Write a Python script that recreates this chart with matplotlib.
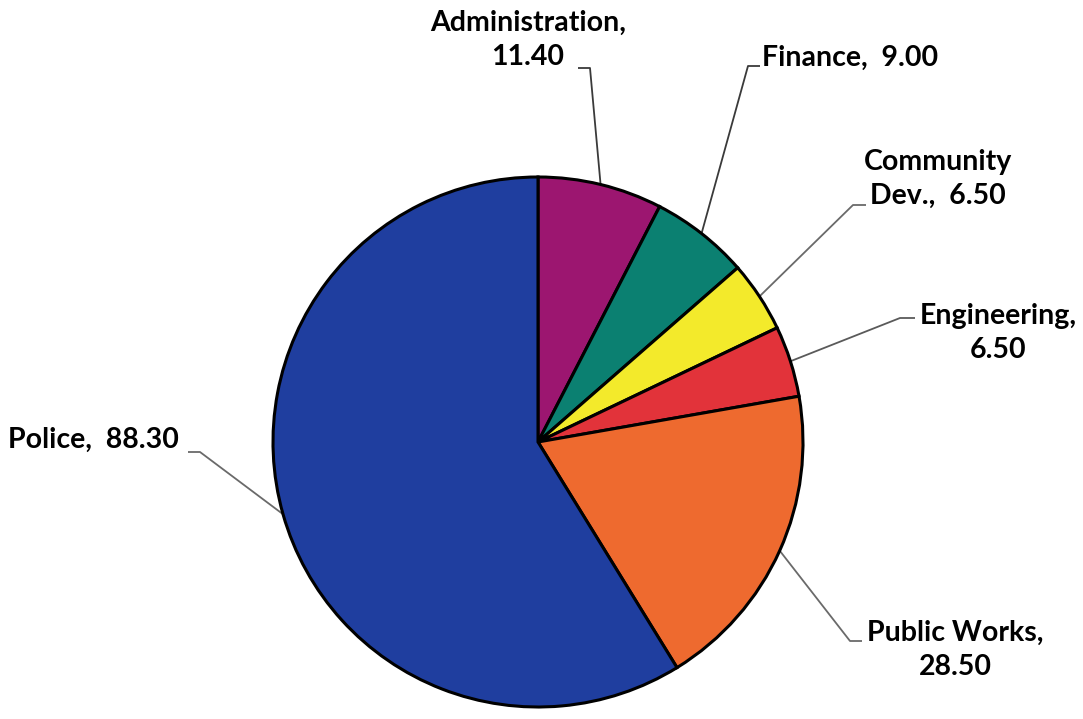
import numpy as np
import matplotlib
matplotlib.use("Agg")
import matplotlib.pyplot as plt

# ---- data ----
categories = ["Administration", "Finance", "Community Dev.", "Engineering", "Public Works", "Police"]
values = [11.40, 9.00, 6.50, 6.50, 28.50, 88.30]
label_texts = ["Administration,\n11.40", "Finance,  9.00", "Community\nDev.,  6.50",
               "Engineering,\n6.50", "Public Works,\n28.50", "Police,  88.30"]
colors = ["#9C1670", "#0B8071", "#F3EA2B", "#E2333A", "#EE6A2F", "#1F3E9F"]

W, H = 1083, 719
fig = plt.figure(figsize=(W / 100, H / 100), dpi=100)
ax = fig.add_axes([0, 0, 1, 1])

cx, cy, R = 538, H - 442, 265
wedges, _ = ax.pie(values, colors=colors, startangle=90, counterclock=False,
                   center=(cx, cy), radius=R,
                   wedgeprops=dict(edgecolor="black", linewidth=2.2))

ax.set_xlim(0, W)
ax.set_ylim(0, H)
ax.set_aspect("equal")
ax.axis("off")

# label layout (pixel positions, y from top): text pos, alignment, elbow, hook end
layout = [
    dict(xy=(528, 40), ha="center", elbow=(590, 68), hook=(578, 68), lc="#3a3a3a"),
    dict(xy=(762, 58), ha="left", elbow=(748, 66), hook=(760, 66), lc="#3a3a3a"),
    dict(xy=(938, 179), ha="center", elbow=(853, 205), hook=(866, 205), lc="#6a6a6a"),
    dict(xy=(998, 333), ha="center", elbow=(900, 318), hook=(915, 318), lc="#5a5a5a"),
    dict(xy=(955, 650), ha="center", elbow=(850, 641), hook=(862, 641), lc="#6a6a6a"),
    dict(xy=(8, 440), ha="left", elbow=(200, 452), hook=(188, 452), lc="#6a6a6a"),
]

for w, txt, lay in zip(wedges, label_texts, layout):
    mid = np.deg2rad((w.theta1 + w.theta2) / 2)
    ax_x = cx + R * np.cos(mid)
    ax_y = cy + R * np.sin(mid)
    ex, ey = lay["elbow"]
    hx, hy = lay["hook"]
    ax.plot([ax_x, ex, hx], [ax_y, H - ey, H - hy], color=lay["lc"], lw=1.3,
            solid_capstyle="butt", zorder=0.5)
    ax.text(lay["xy"][0], H - lay["xy"][1], txt, ha=lay["ha"], va="center",
            multialignment="center", fontsize=20.5, fontweight="bold",
            family=["Lato", "DejaVu Sans"], linespacing=1.35, color="black")

fig.savefig("out.png", dpi=100)
